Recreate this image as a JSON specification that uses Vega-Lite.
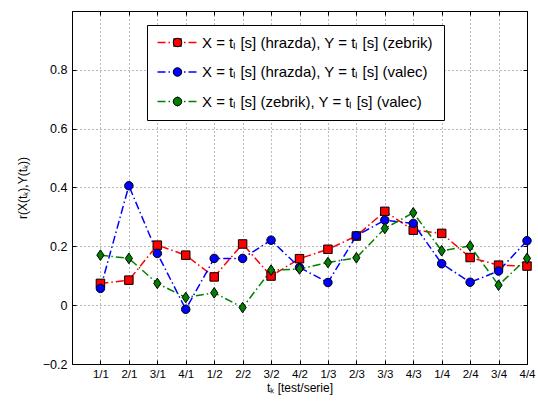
{
  "$schema": "https://vega.github.io/schema/vega-lite/v6.json",
  "width": 455,
  "height": 353,
  "autosize": {"type": "none"},
  "padding": {"left": 72, "top": 11, "right": 11, "bottom": 41},
  "background": "#ffffff",
  "config": {
    "font": "Liberation Sans",
    "view": {"stroke": "#000000", "strokeWidth": 1},
    "axis": {
      "labelFont": "Liberation Sans",
      "titleFont": "Liberation Sans",
      "labelFontSize": 12,
      "titleFontSize": 12,
      "labelColor": "#000000",
      "titleColor": "#000000",
      "titleFontWeight": "normal",
      "tickColor": "#000000",
      "domain": false
    },
    "legend": {
      "labelFont": "Liberation Sans",
      "labelFontSize": 15,
      "labelColor": "#000000"
    }
  },
  "data": {
    "values": [
      {"s": "X = tₗ [s] (hrazda), Y = tₗ [s] (zebrik)", "i": 1, "r": 0.074},
      {"s": "X = tₗ [s] (hrazda), Y = tₗ [s] (zebrik)", "i": 2, "r": 0.085},
      {"s": "X = tₗ [s] (hrazda), Y = tₗ [s] (zebrik)", "i": 3, "r": 0.204},
      {"s": "X = tₗ [s] (hrazda), Y = tₗ [s] (zebrik)", "i": 4, "r": 0.170},
      {"s": "X = tₗ [s] (hrazda), Y = tₗ [s] (zebrik)", "i": 5, "r": 0.096},
      {"s": "X = tₗ [s] (hrazda), Y = tₗ [s] (zebrik)", "i": 6, "r": 0.208},
      {"s": "X = tₗ [s] (hrazda), Y = tₗ [s] (zebrik)", "i": 7, "r": 0.099},
      {"s": "X = tₗ [s] (hrazda), Y = tₗ [s] (zebrik)", "i": 8, "r": 0.158},
      {"s": "X = tₗ [s] (hrazda), Y = tₗ [s] (zebrik)", "i": 9, "r": 0.190},
      {"s": "X = tₗ [s] (hrazda), Y = tₗ [s] (zebrik)", "i": 10, "r": 0.235},
      {"s": "X = tₗ [s] (hrazda), Y = tₗ [s] (zebrik)", "i": 11, "r": 0.319},
      {"s": "X = tₗ [s] (hrazda), Y = tₗ [s] (zebrik)", "i": 12, "r": 0.255},
      {"s": "X = tₗ [s] (hrazda), Y = tₗ [s] (zebrik)", "i": 13, "r": 0.244},
      {"s": "X = tₗ [s] (hrazda), Y = tₗ [s] (zebrik)", "i": 14, "r": 0.162},
      {"s": "X = tₗ [s] (hrazda), Y = tₗ [s] (zebrik)", "i": 15, "r": 0.136},
      {"s": "X = tₗ [s] (hrazda), Y = tₗ [s] (zebrik)", "i": 16, "r": 0.133},
      {"s": "X = tₗ [s] (hrazda), Y = tₗ [s] (valec)", "i": 1, "r": 0.057},
      {"s": "X = tₗ [s] (hrazda), Y = tₗ [s] (valec)", "i": 2, "r": 0.406},
      {"s": "X = tₗ [s] (hrazda), Y = tₗ [s] (valec)", "i": 3, "r": 0.176},
      {"s": "X = tₗ [s] (hrazda), Y = tₗ [s] (valec)", "i": 4, "r": -0.014},
      {"s": "X = tₗ [s] (hrazda), Y = tₗ [s] (valec)", "i": 5, "r": 0.159},
      {"s": "X = tₗ [s] (hrazda), Y = tₗ [s] (valec)", "i": 6, "r": 0.159},
      {"s": "X = tₗ [s] (hrazda), Y = tₗ [s] (valec)", "i": 7, "r": 0.221},
      {"s": "X = tₗ [s] (hrazda), Y = tₗ [s] (valec)", "i": 8, "r": 0.128},
      {"s": "X = tₗ [s] (hrazda), Y = tₗ [s] (valec)", "i": 9, "r": 0.077},
      {"s": "X = tₗ [s] (hrazda), Y = tₗ [s] (valec)", "i": 10, "r": 0.236},
      {"s": "X = tₗ [s] (hrazda), Y = tₗ [s] (valec)", "i": 11, "r": 0.289},
      {"s": "X = tₗ [s] (hrazda), Y = tₗ [s] (valec)", "i": 12, "r": 0.278},
      {"s": "X = tₗ [s] (hrazda), Y = tₗ [s] (valec)", "i": 13, "r": 0.141},
      {"s": "X = tₗ [s] (hrazda), Y = tₗ [s] (valec)", "i": 14, "r": 0.078},
      {"s": "X = tₗ [s] (hrazda), Y = tₗ [s] (valec)", "i": 15, "r": 0.116},
      {"s": "X = tₗ [s] (hrazda), Y = tₗ [s] (valec)", "i": 16, "r": 0.219},
      {"s": "X = tₗ [s] (zebrik), Y = tₗ [s] (valec)", "i": 1, "r": 0.170},
      {"s": "X = tₗ [s] (zebrik), Y = tₗ [s] (valec)", "i": 2, "r": 0.159},
      {"s": "X = tₗ [s] (zebrik), Y = tₗ [s] (valec)", "i": 3, "r": 0.074},
      {"s": "X = tₗ [s] (zebrik), Y = tₗ [s] (valec)", "i": 4, "r": 0.026},
      {"s": "X = tₗ [s] (zebrik), Y = tₗ [s] (valec)", "i": 5, "r": 0.042},
      {"s": "X = tₗ [s] (zebrik), Y = tₗ [s] (valec)", "i": 6, "r": -0.008},
      {"s": "X = tₗ [s] (zebrik), Y = tₗ [s] (valec)", "i": 7, "r": 0.119},
      {"s": "X = tₗ [s] (zebrik), Y = tₗ [s] (valec)", "i": 8, "r": 0.123},
      {"s": "X = tₗ [s] (zebrik), Y = tₗ [s] (valec)", "i": 9, "r": 0.145},
      {"s": "X = tₗ [s] (zebrik), Y = tₗ [s] (valec)", "i": 10, "r": 0.161},
      {"s": "X = tₗ [s] (zebrik), Y = tₗ [s] (valec)", "i": 11, "r": 0.261},
      {"s": "X = tₗ [s] (zebrik), Y = tₗ [s] (valec)", "i": 12, "r": 0.314},
      {"s": "X = tₗ [s] (zebrik), Y = tₗ [s] (valec)", "i": 13, "r": 0.185},
      {"s": "X = tₗ [s] (zebrik), Y = tₗ [s] (valec)", "i": 14, "r": 0.201},
      {"s": "X = tₗ [s] (zebrik), Y = tₗ [s] (valec)", "i": 15, "r": 0.068},
      {"s": "X = tₗ [s] (zebrik), Y = tₗ [s] (valec)", "i": 16, "r": 0.159}
    ]
  },
  "resolve": {"axis": {"x": "independent", "y": "independent"}},
  "layer": [
    {
      "mark": {"type": "line", "strokeWidth": 1.5, "strokeDash": [8, 3, 1.5, 3]},
      "encoding": {
        "x": {
          "field": "i", "type": "quantitative",
          "scale": {"domain": [0, 16], "nice": false, "zero": false},
          "axis": {
            "orient": "bottom",
            "values": [1, 2, 3, 4, 5, 6, 7, 8, 9, 10, 11, 12, 13, 14, 15, 16],
            "labelExpr": "((datum.value - 1) % 4 + 1) + '/' + (floor((datum.value - 1) / 4) + 1)",
            "title": "tₖ [test/serie]",
            "labelFontSize": 11.5,
            "grid": true, "gridColor": "#000000", "gridDash": [1, 3], "gridOpacity": 0.55,
            "tickSize": -4, "labelPadding": 8, "titlePadding": 3,
            "labelFlush": false, "labelOverlap": false
          }
        },
        "y": {
          "field": "r", "type": "quantitative",
          "scale": {"domain": [-0.2, 1.0], "nice": false, "zero": false},
          "axis": {
            "orient": "left",
            "values": [-0.2, 0, 0.2, 0.4, 0.6, 0.8, 1.0],
            "labelExpr": "datum.value > 0.99 ? '' : (abs(datum.value) < 0.001 ? '0' : format(datum.value, '.1f'))",
            "title": "r(X(tₖ),Y(tₖ))",
            "labelFontSize": 12.5,
            "grid": true, "gridColor": "#000000", "gridDash": [1, 3], "gridOpacity": 0.55,
            "tickSize": -4, "labelPadding": 9, "titlePadding": 13,
            "labelFlush": false, "labelOverlap": false
          }
        },
        "stroke": {
          "field": "s", "type": "nominal",
          "scale": {
            "domain": ["X = tₗ [s] (hrazda), Y = tₗ [s] (zebrik)", "X = tₗ [s] (hrazda), Y = tₗ [s] (valec)", "X = tₗ [s] (zebrik), Y = tₗ [s] (valec)"],
            "range": ["#ff0000", "#0000ff", "#007f00"]
          },
          "legend": {
            "title": null, "orient": "none", "legendX": 75, "legendY": 14, "zindex": 1,
            "symbolType": "M-6,0H6", "symbolSize": 49, "symbolStrokeWidth": 1.5,
            "symbolDash": [8, 3, 1.5, 3], "symbolFillColor": "transparent",
            "symbolOffset": 14, "labelOffset": 16,
            "padding": 10, "rowPadding": 13.5, "strokeColor": "#000000", "fillColor": "#ffffff",
            "labelLimit": 400
          }
        },
        "detail": {"field": "s"},
        "order": {"field": "i"}
      }
    },
    {
      "mark": {"type": "point", "filled": true, "stroke": "#000000", "strokeWidth": 1, "opacity": 1},
      "encoding": {
        "x": {
          "field": "i", "type": "quantitative",
          "axis": {
            "orient": "top", "values": [1, 2, 3, 4, 5, 6, 7, 8, 9, 10, 11, 12, 13, 14, 15, 16],
            "labels": false, "title": null, "grid": false, "tickSize": -4
          }
        },
        "y": {
          "field": "r", "type": "quantitative",
          "axis": {
            "orient": "right", "values": [-0.2, 0, 0.2, 0.4, 0.6, 0.8, 1.0],
            "labels": false, "title": null, "grid": false, "tickSize": -4
          }
        },
        "fill": {
          "field": "s", "type": "nominal",
          "sort": ["X = tₗ [s] (hrazda), Y = tₗ [s] (zebrik)", "X = tₗ [s] (hrazda), Y = tₗ [s] (valec)", "X = tₗ [s] (zebrik), Y = tₗ [s] (valec)"],
          "scale": {"range": ["#ff0000", "#0000ff", "#007f00"]},
          "legend": {
            "title": null, "orient": "none", "legendX": 75, "legendY": 14, "zindex": 2,
            "symbolStrokeColor": "#000000", "symbolStrokeWidth": 1, "symbolSize": 72,
            "symbolOffset": 13, "labelOffset": 16, "labelOpacity": 0,
            "padding": 10, "rowPadding": 13.5, "labelLimit": 400
          }
        },
        "shape": {
          "field": "s", "type": "nominal",
          "sort": ["X = tₗ [s] (hrazda), Y = tₗ [s] (zebrik)", "X = tₗ [s] (hrazda), Y = tₗ [s] (valec)", "X = tₗ [s] (zebrik), Y = tₗ [s] (valec)"],
          "scale": {"range": ["square", "circle", "M0,-1.25L0.85,0L0,1.25L-0.85,0Z"]},
          "legend": {
            "title": null, "orient": "none", "legendX": 75, "legendY": 14, "zindex": 2,
            "symbolStrokeColor": "#000000", "symbolStrokeWidth": 1, "symbolSize": 72,
            "symbolOffset": 13, "labelOffset": 16, "labelOpacity": 0,
            "padding": 10, "rowPadding": 13.5, "labelLimit": 400
          }
        },
        "size": {"value": 72}
      }
    }
  ]
}
